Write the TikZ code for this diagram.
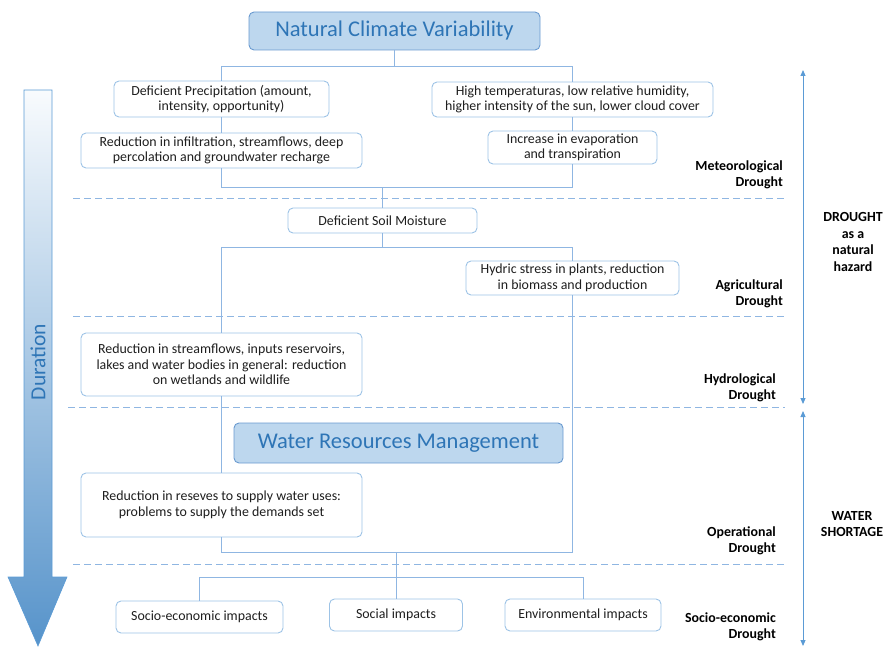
\documentclass[tikz,border=0pt]{standalone}
\usepackage{fontspec}
\setmainfont{Carlito}
\usetikzlibrary{arrows.meta}
\definecolor{boxline}{HTML}{9DC3E6}
\definecolor{linkline}{HTML}{8FB6E2}
\definecolor{titlefill}{HTML}{BDD7EE}
\definecolor{titleline}{HTML}{6A9AD0}
\definecolor{titletext}{HTML}{2E75B6}
\definecolor{arrowblue}{HTML}{5B9BD5}
\definecolor{bodytext}{HTML}{1E1E1E}

\begin{document}
\begin{tikzpicture}[x=1pt,y=-1pt,
  box/.style={draw=boxline, line width=0.9pt, rounded corners=5pt, fill=white,
    align=center, inner sep=0pt, text=bodytext,
    font=\fontsize{13.9}{15.6}\selectfont},
  headbox/.style={draw=titleline, line width=0.9pt, rounded corners=5pt,
    fill=titlefill, text=titletext, inner sep=0pt,
    font=\fontsize{22.5}{24}\selectfont},
  link/.style={draw=linkline, line width=0.9pt},
  stageline/.style={draw=linkline, line width=0.9pt, dash pattern=on 7pt off 4pt},
  phase/.style={anchor=east, align=right, inner sep=0pt,
    font=\bfseries\fontsize{13.9}{16}\selectfont},
  rangelabel/.style={align=center, inner sep=0pt,
    font=\bfseries\fontsize{13.9}{16.7}\selectfont},
  rangearrow/.style={draw=arrowblue, line width=0.9pt,
    {Triangle[length=6pt,width=5pt]}-{Triangle[length=6pt,width=5pt]}}
]
\useasboundingbox (0,0) rectangle (885,647);

% ---- duration arrow on the left ----
\shadedraw[top color=arrowblue!4, bottom color=arrowblue!95!black, draw=arrowblue, line width=0.6pt]
  (24,90) -- (52,90) -- (52,577) -- (67,577) -- (38,646) -- (8,577) -- (24,577) -- cycle;
\node[rotate=90, text=titletext, font=\fontsize{21.5}{24}\selectfont] (dur) at (38,362) {Duration};

% ---- boxes ----
\node[headbox, minimum width=291pt, minimum height=38pt] (title) at (394.5,31) {Natural Climate Variability};

\node[box, minimum width=215pt, minimum height=36pt] (dp) at (221.5,99) {Deficient Precipitation (amount,\\intensity, opportunity)};
\node[box, minimum width=281pt, minimum height=35pt] (ht) at (572.5,99.5) {High temperaturas, low relative humidity,\\higher intensity of the sun, lower cloud cover};
\node[box, minimum width=281pt, minimum height=35pt] (ri) at (221.5,150.5) {Reduction in infiltration, streamflows, deep\\percolation and groundwater recharge};
\node[box, minimum width=169pt, minimum height=33pt] (ie) at (572.5,147.5) {Increase in evaporation\\and transpiration};

\node[box, minimum width=189pt, minimum height=25pt] (dsm) at (382.5,220.5) {Deficient Soil Moisture};
\node[box, minimum width=213pt, minimum height=34pt] (hs) at (572.5,278) {Hydric stress in plants, reduction\\in biomass and production};

\node[box, minimum width=281pt, minimum height=63pt] (rs) at (221.5,364.5) {Reduction in streamflows, inputs reservoirs,\\lakes and water bodies in general: reduction\\on wetlands and wildlife};

\node[headbox, minimum width=329pt, minimum height=40pt] (wrm) at (398.5,443) {Water Resources Management};
\node[box, minimum width=281pt, minimum height=64pt] (rr) at (221.5,505) {Reduction in reseves to supply water uses:\\problems to supply the demands set};

\node[box, minimum width=167pt, minimum height=32pt] (se) at (199.5,617) {Socio-economic impacts};
\node[box, minimum width=133pt, minimum height=32pt] (so) at (396,615) {Social impacts};
\node[box, minimum width=156pt, minimum height=32pt] (en) at (583,615) {Environmental impacts};

% ---- junction points of the connectors ----
\coordinate (j1) at (394.5,66);
\coordinate (j2) at (382.5,187);
\coordinate (j3) at (382.5,247);
\coordinate (j4) at (396,552);
\coordinate (j5) at (396,577);

% ---- connectors ----
\draw[link] (title.south) -- (j1);
\draw[link] (dp.north) -- (dp.north |- j1) -- (ht.north |- j1) -- (ht.north);
\draw[link] (dp.south) -- (ri.north);
\draw[link] (ht.south) -- (ie.north);
\draw[link] (ri.south) -- (ri.south |- j2) -- (ie.south |- j2) -- (ie.south);
\draw[link] (j2) -- (dsm.north);
\draw[link] (dsm.south) -- (j3);
\draw[link] (rs.north) -- (rs.north |- j3) -- (hs.north |- j3) -- (hs.north);
\draw[link] (rs.south) -- (rr.north);
\draw[link] (rr.south) -- (rr.south |- j4) -- (hs.south |- j4) -- (hs.south);
\draw[link] (j4) -- (j5);
\draw[link] (se.north) -- (se.north |- j5) -- (en.north |- j5) -- (en.north);
\draw[link] (j5) -- (so.north);

% ---- dashed stage separators ----
\coordinate (s1a) at (73,198);  \coordinate (s1b) at (785,198);
\coordinate (s2a) at (73,316);  \coordinate (s2b) at (785,316);
\coordinate (s3a) at (68,407);  \coordinate (s3b) at (785,407);
\coordinate (s4a) at (73,564);  \coordinate (s4b) at (785,564);
\draw[stageline] (s1a) -- (s1b);
\draw[stageline] (s2a) -- (s2b);
\draw[stageline] (s3a) -- (s3b);
\draw[stageline] (s4a) -- (s4b);

% ---- stage names ----
\node[phase] (met) at (783,174.5) {Meteorological\\Drought};
\node[phase] (agr) at (783,294) {Agricultural\\Drought};
\node[phase] (hyd) at (776,387.5) {Hydrological\\Drought};
\node[phase] (ope) at (776,541) {Operational\\Drought};
\node[phase] (soc) at (776,627) {Socio-economic\\Drought};

% ---- ranges on the right ----
\coordinate (ha) at (803,70);  \coordinate (hb) at (803,404);
\coordinate (wa) at (803,411); \coordinate (wb) at (803,646);
\draw[rangearrow] (ha) -- (hb);
\draw[rangearrow] (wa) -- (wb);
\node[rangelabel] (haz) at (853,242) {DROUGHT\\as a\\natural\\hazard};
\node[rangelabel] (sho) at (852,524) {WATER\\SHORTAGE};
\end{tikzpicture}
\end{document}
